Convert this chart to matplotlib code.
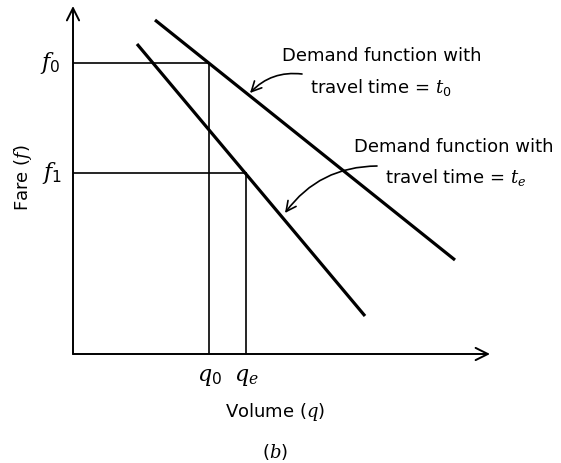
import matplotlib.pyplot as plt
import numpy as np

plt.rcParams['font.family'] = ['DejaVu Sans']
plt.rcParams['mathtext.fontset'] = 'custom'
plt.rcParams['mathtext.it'] = 'DejaVu Serif:italic'
plt.rcParams['mathtext.rm'] = 'DejaVu Sans'

# demand lines (volume q, fare f), arbitrary units
q_t0 = [8.2, 38.2]
f_t0 = [33.4, 9.4]
q_te = [6.4, 29.2]
f_te = [31.0, 3.8]

# equilibrium points
q0, f0 = 13.6, 29.1
qe, f1 = 17.3, 18.1

fig = plt.figure(figsize=(5.61, 4.63), dpi=100)
W, H = 561, 463
x0, y0 = 73, 354
ax = fig.add_axes([x0 / W, (H - y0) / H, (490 - x0) / W, (y0 - 6) / H])
ax.set_xlim(0, 41.7)
ax.set_ylim(0, 34.8)
ax.axis('off')

# axes with arrows
ax.annotate('', xy=(41.7, 0), xytext=(0, 0),
            arrowprops=dict(arrowstyle='->', lw=1.4, color='black',
                            mutation_scale=22, shrinkA=0, shrinkB=0))
ax.annotate('', xy=(0, 34.8), xytext=(0, 0),
            arrowprops=dict(arrowstyle='->', lw=1.4, color='black',
                            mutation_scale=22, shrinkA=0, shrinkB=0))

# demand lines
ax.plot(q_t0, f_t0, color='black', lw=2.3, solid_capstyle='butt')
ax.plot(q_te, f_te, color='black', lw=2.3, solid_capstyle='butt')

# guide lines
ax.plot([0, q0], [f0, f0], color='black', lw=1.2)
ax.plot([q0, q0], [0, f0], color='black', lw=1.2)
ax.plot([0, qe], [f1, f1], color='black', lw=1.2)
ax.plot([qe, qe], [0, f1], color='black', lw=1.2)

# tick labels
kw = dict(fontsize=16, ha='center', va='center', clip_on=False)
ax.text(-2.3, f0, '$f_0$', **kw)
ax.text(-2.1, f1, '$f_1$', **kw)
ax.text(q0, -2.4, '$q_0$', **kw)
ax.text(qe, -2.4, '$q_e$', **kw)

# axis titles
ax.text(20.2, -5.8, 'Volume $(q)$', fontsize=13, ha='center', va='center')
ax.text(-5.0, 17.6, 'Fare $(f)$', fontsize=13, ha='center', va='center',
        rotation=90)
ax.text(20.2, -9.8, '$(b)$', fontsize=13, ha='center', va='center')

# annotations
ax.text(30.9, 29.8, 'Demand function with', fontsize=13, ha='center', va='center')
ax.text(30.8, 26.7, 'travel time = $t_0$', fontsize=13, ha='center', va='center')
ax.annotate('', xy=(17.7, 26.1), xytext=(22.9, 28.0),
            arrowprops=dict(arrowstyle='->', lw=1.2, color='black',
                            connectionstyle='arc3,rad=0.25',
                            mutation_scale=18, shrinkA=0, shrinkB=0))

ax.text(38.1, 20.7, 'Demand function with', fontsize=13, ha='center', va='center')
ax.text(38.3, 17.7, 'travel time = $t_e$', fontsize=13, ha='center', va='center')
ax.annotate('', xy=(21.2, 14.1), xytext=(30.4, 18.8),
            arrowprops=dict(arrowstyle='->', lw=1.2, color='black',
                            connectionstyle='arc3,rad=0.25',
                            mutation_scale=18, shrinkA=0, shrinkB=0))

fig.savefig('out.png', dpi=100)
